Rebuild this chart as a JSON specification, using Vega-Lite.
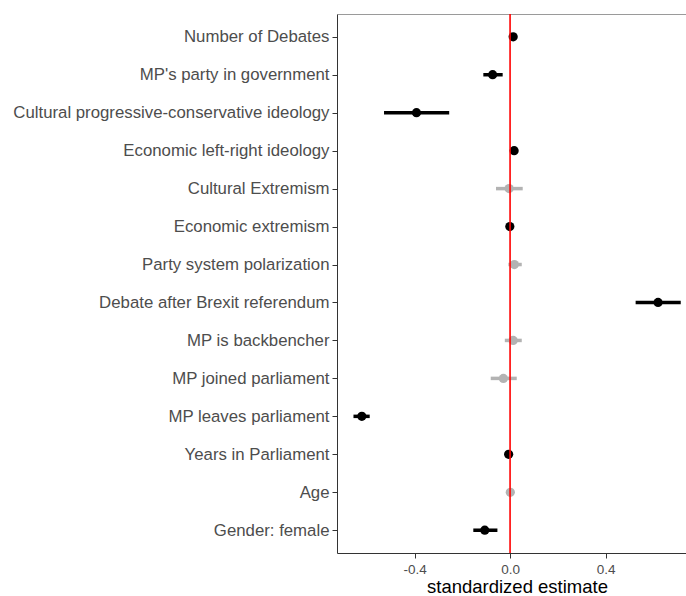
{
  "$schema": "https://vega.github.io/schema/vega-lite/v6.json",
  "width": 349,
  "height": 539,
  "autosize": "none",
  "padding": {"left": 337, "top": 14, "right": 0, "bottom": 43},
  "background": "white",
  "config": {"view": {"stroke": null}, "font": "Liberation Sans"},
  "data": {"values": [
    {"term": "Number of Debates", "est": 0.013, "lo": 0.005, "hi": 0.021, "sig": "yes"},
    {"term": "MP's party in government", "est": -0.073, "lo": -0.112, "hi": -0.031, "sig": "yes"},
    {"term": "Cultural progressive-conservative ideology", "est": -0.392, "lo": -0.528, "hi": -0.255, "sig": "yes"},
    {"term": "Economic left-right ideology", "est": 0.017, "lo": 0.01, "hi": 0.024, "sig": "yes"},
    {"term": "Cultural Extremism", "est": -0.004, "lo": -0.059, "hi": 0.053, "sig": "no"},
    {"term": "Economic extremism", "est": -0.001, "lo": -0.008, "hi": 0.006, "sig": "yes"},
    {"term": "Party system polarization", "est": 0.018, "lo": -0.007, "hi": 0.049, "sig": "no"},
    {"term": "Debate after Brexit referendum", "est": 0.62, "lo": 0.526, "hi": 0.715, "sig": "yes"},
    {"term": "MP is backbencher", "est": 0.013, "lo": -0.022, "hi": 0.049, "sig": "no"},
    {"term": "MP joined parliament", "est": -0.028, "lo": -0.081, "hi": 0.028, "sig": "no"},
    {"term": "MP leaves parliament", "est": -0.621, "lo": -0.656, "hi": -0.588, "sig": "yes"},
    {"term": "Years in Parliament", "est": -0.006, "lo": -0.012, "hi": 0.0, "sig": "yes"},
    {"term": "Age", "est": 0.001, "lo": -0.004, "hi": 0.006, "sig": "no"},
    {"term": "Gender: female", "est": -0.106, "lo": -0.154, "hi": -0.053, "sig": "yes"}
  ]},
  "encoding": {
    "y": {
      "field": "term", "type": "nominal", "sort": null,
      "scale": {"type": "point", "padding": 0.6},
      "axis": {"title": null, "labelFontSize": 16.8, "labelLimit": 400, "labelColor": "#4d4d4d", "labelPadding": 3, "tickSize": 5, "tickColor": "#333333", "domainColor": "#333333", "labelFont": "Liberation Sans", "grid": false}
    }
  },
  "layer": [
    {
      "mark": {"type": "rule", "strokeWidth": 3.5},
      "encoding": {
        "x": {"field": "lo", "type": "quantitative", "scale": {"domain": [-0.725, 0.737], "nice": false, "zero": false},
          "axis": {"title": "standardized estimate", "titleFontSize": 18.5, "titleFontWeight": "normal", "titleColor": "black", "titlePadding": 2, "titleX": 180, "values": [-0.4, 0, 0.4], "labelExpr": "replace(format(datum.value, '.1f'), '\u2212', '-')", "labelFontSize": 13.5, "labelColor": "#4d4d4d", "tickSize": 5, "tickColor": "#333333", "domainColor": "#333333", "grid": false, "labelPadding": 4}},
        "x2": {"field": "hi"},
        "color": {"field": "sig", "type": "nominal", "scale": {"domain": ["yes", "no"], "range": ["#000000", "#b3b3b3"]}, "legend": null}
      }
    },
    {
      "mark": {"type": "point", "filled": true, "size": 85, "opacity": 1},
      "encoding": {
        "x": {"field": "est", "type": "quantitative", "axis": null},
        "color": {"field": "sig", "type": "nominal", "legend": null}
      }
    },
    {
      "data": {"values": [{"v": 0}]},
      "mark": {"type": "rule", "color": "#ff0000", "strokeWidth": 1.6},
      "encoding": {
        "x": {"field": "v", "type": "quantitative", "axis": {"orient": "top", "labels": false, "ticks": false, "title": null, "domainColor": "#9a9a9a", "grid": false}},
        "y": null
      }
    }
  ],
  "resolve": {"axis": {"x": "independent"}}
}
